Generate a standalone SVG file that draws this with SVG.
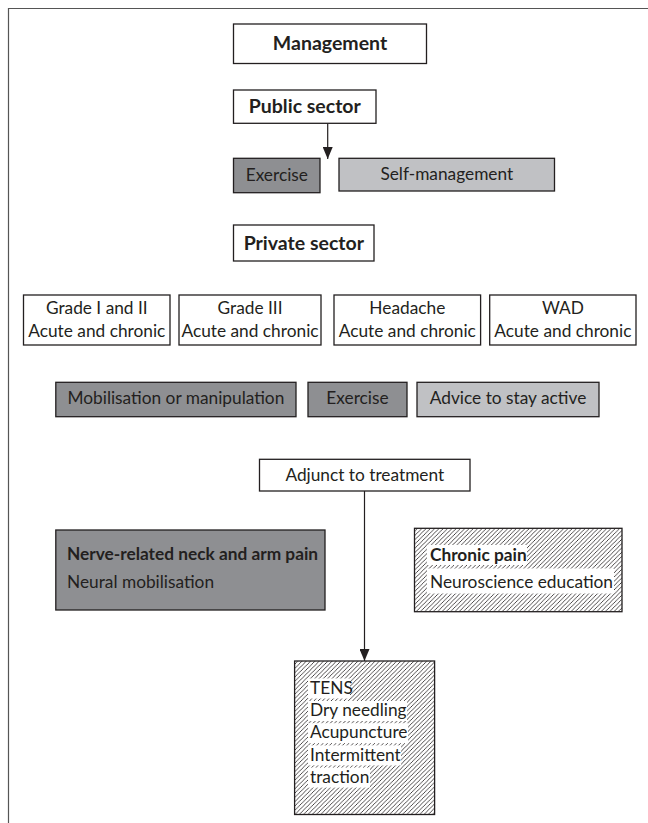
<svg xmlns="http://www.w3.org/2000/svg" width="648" height="823" viewBox="0 0 648 823">
<defs>
<style>
.t{font-family:Lato,"Open Sans","Liberation Sans",sans-serif;fill:#231f20;font-size:17.3px}
.b{font-weight:bold}
.h{font-size:19.5px;font-weight:bold}
.box{stroke:#231f20;stroke-width:1.3}
.w{fill:#fff}
.dk{fill:#8e8f92}
.lt{fill:#c0c1c4}
.ht{fill:url(#hatch)}
.c{text-anchor:middle}
.ln{stroke:#231f20;stroke-width:1.2;fill:none}
</style>
<pattern id="hatch" patternUnits="userSpaceOnUse" width="4.3" height="4.3">
<rect width="4.3" height="4.3" fill="#fff"/>
<path d="M-1,1 L1,-1 M0,4.3 L4.3,0 M3.3,5.3 L5.3,3.3" stroke="#231f20" stroke-width="0.8"/>
</pattern>
<marker id="arr" viewBox="0 0 12 10" refX="12" refY="5" markerWidth="12" markerHeight="10" markerUnits="userSpaceOnUse" orient="auto">
<path d="M0,0 L12,5 L0,10 z" fill="#231f20"/>
</marker>
</defs>
<path d="M8.5,823 V8.5 H648" fill="none" stroke="#555" stroke-width="1.2"/>
<g id="connectors">
<line class="ln" x1="327.7" y1="123.3" x2="327.7" y2="159" marker-end="url(#arr)"/>
<line class="ln" x1="364.5" y1="491" x2="364.5" y2="661" marker-end="url(#arr)"/>
</g>
<g id="management">
<rect class="box w" x="233.5" y="24" width="193" height="39.5"/>
<text class="t h c" x="330" y="49.5">Management</text>
</g>
<g id="public">
<rect class="box w" x="233.5" y="90" width="142.5" height="33.3"/>
<text class="t h c" x="304.8" y="113">Public sector</text>
</g>
<g id="pub-exercise">
<rect class="box dk" x="233.5" y="158.3" width="86.5" height="34.4"/>
<text class="t c" x="276.8" y="180.5">Exercise</text>
</g>
<g id="self-management">
<rect class="box lt" x="339" y="158.3" width="215.5" height="32.7"/>
<text class="t c" x="446.8" y="180">Self-management</text>
</g>
<g id="private">
<rect class="box w" x="233.5" y="225" width="140.5" height="36"/>
<text class="t h c" x="303.8" y="249.5">Private sector</text>
</g>
<g id="grade12">
<rect class="box w" x="23.5" y="295" width="146.5" height="50"/>
<text class="t c" x="96.8" y="314">Grade I and II</text>
<text class="t c" x="96.8" y="337">Acute and chronic</text>
</g>
<g id="grade3">
<rect class="box w" x="179" y="295" width="142" height="50"/>
<text class="t c" x="250" y="314">Grade III</text>
<text class="t c" x="250" y="337">Acute and chronic</text>
</g>
<g id="headache">
<rect class="box w" x="334" y="295" width="146.6" height="50"/>
<text class="t c" x="407.3" y="314">Headache</text>
<text class="t c" x="407.3" y="337">Acute and chronic</text>
</g>
<g id="wad">
<rect class="box w" x="489.7" y="295" width="146.3" height="50"/>
<text class="t c" x="562.9" y="314">WAD</text>
<text class="t c" x="562.9" y="337">Acute and chronic</text>
</g>
<g id="mobilisation">
<rect class="box dk" x="55.8" y="382.3" width="240.2" height="34.4"/>
<text class="t c" x="175.9" y="404">Mobilisation or manipulation</text>
</g>
<g id="priv-exercise">
<rect class="box dk" x="308" y="382.3" width="99" height="34.4"/>
<text class="t c" x="357.5" y="404">Exercise</text>
</g>
<g id="advice">
<rect class="box lt" x="417" y="382.3" width="182" height="34.4"/>
<text class="t c" x="508" y="404">Advice to stay active</text>
</g>
<g id="adjunct">
<rect class="box w" x="259.5" y="459.3" width="210.5" height="31.7"/>
<text class="t c" x="364.8" y="481">Adjunct to treatment</text>
</g>
<g id="nerve">
<rect class="box dk" x="55.8" y="530" width="269.2" height="80"/>
<text class="t b" x="67" y="560">Nerve-related neck and arm pain</text>
<text class="t" x="67" y="588">Neural mobilisation</text>
</g>
<g id="chronic">
<rect class="box ht" x="414.5" y="528.3" width="207.5" height="83.4"/>
<rect class="w" x="427" y="545" width="100" height="20"/>
<rect class="w" x="427" y="568.5" width="187" height="25"/>
<text class="t b" x="430" y="560.5">Chronic pain</text>
<text class="t" x="430" y="588.3">Neuroscience education</text>
</g>
<g id="adjuncts">
<rect class="box ht" x="294.6" y="661" width="140" height="153.5"/>
<rect class="w" x="308" y="678.5" width="42" height="20"/>
<rect class="w" x="308" y="701" width="99" height="20"/>
<rect class="w" x="308" y="723.2" width="100" height="20"/>
<rect class="w" x="308" y="745.4" width="93" height="20"/>
<rect class="w" x="308" y="767.6" width="62" height="20"/>
<text class="t" x="310" y="694">TENS</text>
<text class="t" x="310" y="716.2">Dry needling</text>
<text class="t" x="310" y="738.4">Acupuncture</text>
<text class="t" x="310" y="760.6">Intermittent</text>
<text class="t" x="310" y="782.8">traction</text>
</g>
</svg>
